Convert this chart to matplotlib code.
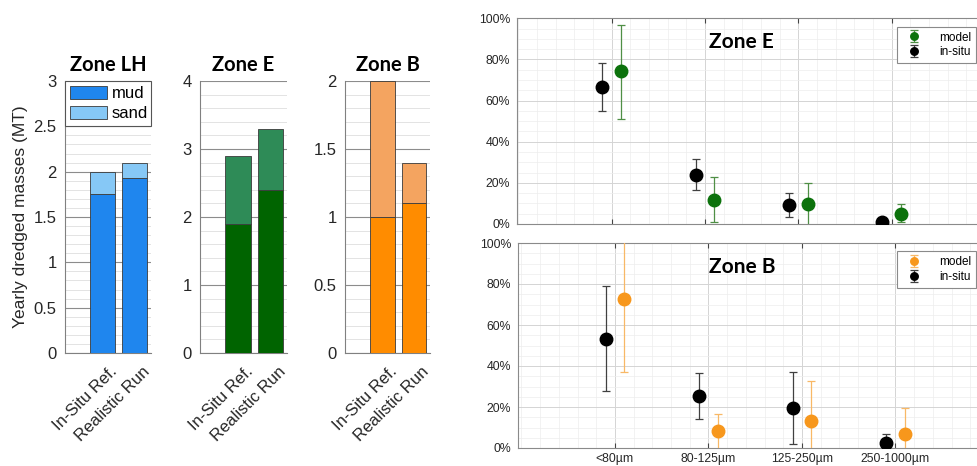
import matplotlib
matplotlib.use("Agg")
import matplotlib.pyplot as plt
import matplotlib.ticker as mt
import matplotlib.transforms as mtrans
from matplotlib.patches import Patch

# ---------------- data ----------------
bar_labels = ["In-Situ Ref.", "Realistic Run"]
lh_mud = [1.75, 1.93]
lh_sand = [0.25, 0.17]
e_mud = [1.9, 2.4]
e_sand = [1.0, 0.9]
b_mud = [1.0, 1.1]
b_sand = [1.0, 0.3]

size_classes = ["<80\u00b5m", "80-125\u00b5m", "125-250\u00b5m", "250-1000\u00b5m"]
# Zone E (percent)
e_insitu = [66.6, 23.8, 9.1, 1.0]
e_insitu_lo = [54.9, 16.4, 3.2, 0.5]
e_insitu_hi = [78.3, 31.4, 15.1, 1.5]
e_model = [74.4, 11.8, 9.9, 4.9]
e_model_lo = [51.2, 0.8, -1.0, 0.8]
e_model_hi = [96.9, 22.7, 19.9, 9.7]
# Zone B (percent)
b_insitu = [53.2, 25.2, 19.5, 2.6]
b_insitu_lo = [27.8, 14.3, 2.0, -1.0]
b_insitu_hi = [78.9, 36.6, 37.1, 7.0]
b_model = [72.7, 8.3, 13.0, 7.0]
b_model_lo = [36.9, -3.0, -3.0, -3.0]
b_model_hi = [108.0, 16.6, 32.8, 19.5]

TICKFONT = "Liberation Sans"
TITLEFONT = "Lato"

W, H = 978, 466
fig = plt.figure(figsize=(W / 100, H / 100), dpi=100)


def ax_px(l, t, r, b):
    return fig.add_axes([l / W, 1 - b / H, (r - l) / W, (b - t) / H])


def bar_panel(rect, mud, sand, cmud, csand, ymax, major, minor, title, ylabel=None, legend=False):
    ax = ax_px(*rect)
    x = [1, 2]
    ax.bar(x, mud, width=0.78, color=cmud, edgecolor="#3a3a3a", linewidth=0.6, label="mud", zorder=3)
    ax.bar(x, sand, width=0.78, bottom=mud, color=csand, edgecolor="#3a3a3a", linewidth=0.6,
           label="sand", zorder=3)
    ax.set_xlim(-0.17, 2.5)
    ax.set_ylim(0, ymax)
    ax.yaxis.set_major_locator(mt.MultipleLocator(major))
    ax.yaxis.set_minor_locator(mt.MultipleLocator(minor))
    ax.yaxis.set_major_formatter(mt.FuncFormatter(lambda v, p: "%g" % v))
    ax.set_axisbelow(True)
    ax.yaxis.grid(True, which="major", color="#8c8c8c", lw=0.8)
    ax.yaxis.grid(True, which="minor", color="#dedede", lw=0.6)
    for s in ["top", "right"]:
        ax.spines[s].set_visible(False)
    for s in ["left", "bottom"]:
        ax.spines[s].set_color("#808080")
        ax.spines[s].set_linewidth(0.8)
    ax.tick_params(axis="y", which="both", length=0, labelsize=12, colors="#262626", pad=6)
    ax.tick_params(axis="x", length=0, labelsize=12, colors="#262626", pad=2)
    ax.set_xticks(x)
    ax.set_xticklabels(bar_labels, rotation=45, ha="right", va="top", rotation_mode="anchor")
    off = mtrans.ScaledTranslation(7 / 100, -8 / 100, fig.dpi_scale_trans)
    for lab in ax.get_xticklabels() + ax.get_yticklabels():
        lab.set_fontfamily(TICKFONT)
    for lab in ax.get_xticklabels():
        lab.set_transform(lab.get_transform() + off)
    ax.set_title(title, fontsize=14.5, fontweight="bold", family=TITLEFONT, pad=7)
    if ylabel:
        ax.set_ylabel(ylabel, fontsize=12.5, family=TICKFONT, color="#262626", labelpad=4)
    if legend:
        handles = [Patch(facecolor=cmud, edgecolor="#3a3a3a", lw=0.6, label="mud"),
                   Patch(facecolor=csand, edgecolor="#3a3a3a", lw=0.6, label="sand")]
        leg = ax.legend(handles=handles, loc="upper left", bbox_to_anchor=(0, 0, 1, 1), mode="expand",
                        borderaxespad=0, fancybox=False, framealpha=1, edgecolor="#555555",
                        prop={"family": TICKFONT, "size": 12}, handlelength=2.2, handleheight=0.85,
                        handletextpad=0.3, borderpad=0.3, labelspacing=0.25)
        leg.get_frame().set_linewidth(0.8)
        leg.set_zorder(5)
    return ax


bar_panel((65, 81, 151, 353), lh_mud, lh_sand, "#1f86ee", "#86c8f6", 3, 0.5, 0.1, "Zone LH",
          ylabel="Yearly dredged masses (MT)", legend=True)
bar_panel((200, 81, 287, 353), e_mud, e_sand, "#006400", "#2e8b57", 4, 1, 0.2, "Zone E")
bar_panel((345, 81, 430, 353), b_mud, b_sand, "#ff8c00", "#f4a460", 2, 0.5, 0.1, "Zone B")


def err_panel(rect, xlim, insitu, ilo, ihi, model, mlo, mhi, mcol, ecol, title, xlabels):
    ax = ax_px(*rect)
    pos = list(range(1, len(size_classes) + 1))
    xi = [p - 0.1 for p in pos]
    xm = [p + 0.1 for p in pos]
    m_err = [[m - l for m, l in zip(model, mlo)], [h - m for m, h in zip(model, mhi)]]
    i_err = [[m - l for m, l in zip(insitu, ilo)], [h - m for m, h in zip(insitu, ihi)]]
    hm = ax.errorbar(xm, model, yerr=m_err, fmt="o", color=mcol, ecolor=ecol, elinewidth=0.9,
                     capsize=3.2, capthick=0.9, markersize=9, zorder=4, label="model")
    hi = ax.errorbar(xi, insitu, yerr=i_err, fmt="o", color="black", ecolor="#404040", elinewidth=0.9,
                     capsize=3.2, capthick=0.9, markersize=9, zorder=4, label="in-situ")
    ax.set_xlim(*xlim)
    ax.set_ylim(0, 100)
    ax.set_xticks(pos)
    ax.xaxis.set_minor_locator(mt.MultipleLocator(0.2))
    ax.yaxis.set_major_locator(mt.MultipleLocator(20))
    ax.yaxis.set_minor_locator(mt.MultipleLocator(5))
    ax.yaxis.set_major_formatter(mt.FuncFormatter(lambda v, p: "%d%%" % v))
    ax.set_axisbelow(True)
    ax.grid(True, which="major", color="#d4d4d4", lw=0.7)
    ax.grid(True, which="minor", color="#ededed", lw=0.5)
    for s in ax.spines.values():
        s.set_color("#8a8a8a")
        s.set_linewidth(0.8)
    ax.tick_params(which="major", direction="in", length=3.5, top=True, right=True, color="#444444",
                   labelsize=8.8, labelcolor="#262626")
    ax.tick_params(which="minor", length=0)
    ax.tick_params(axis="y", which="major", length=0, pad=5)
    if xlabels:
        ax.set_xticklabels(size_classes)
    else:
        ax.set_xticklabels([])
    for lab in ax.get_xticklabels() + ax.get_yticklabels():
        lab.set_fontfamily(TICKFONT)
    ax.text(0.487, 0.885, title, transform=ax.transAxes, ha="center", va="center", fontsize=15,
            fontweight="bold", family=TITLEFONT)
    x0 = (897 - rect[0]) / (rect[2] - rect[0])
    y0 = 1 - 8.5 / (rect[3] - rect[1])
    leg = ax.legend(handles=[hm, hi], loc="upper left", bbox_to_anchor=(x0, y0), borderaxespad=0,
                    fancybox=False, framealpha=1, edgecolor="#8a8a8a", markerscale=0.6,
                    prop={"family": TICKFONT, "size": 8.5}, handlelength=2.0, handletextpad=1.2,
                    borderpad=0.4, labelspacing=0.25)
    leg.get_frame().set_linewidth(0.8)
    return ax


err_panel((517, 18.3, 978, 224), (-0.015, 4.926), e_insitu, e_insitu_lo, e_insitu_hi,
          e_model, e_model_lo, e_model_hi, "#0c720c", "#4f8f45", "Zone E", False)
err_panel((518.3, 243, 978, 448), (-0.034, 4.883), b_insitu, b_insitu_lo, b_insitu_hi,
          b_model, b_model_lo, b_model_hi, "#f7971c", "#f8b866", "Zone B", True)

fig.savefig("out.png", dpi=100)
